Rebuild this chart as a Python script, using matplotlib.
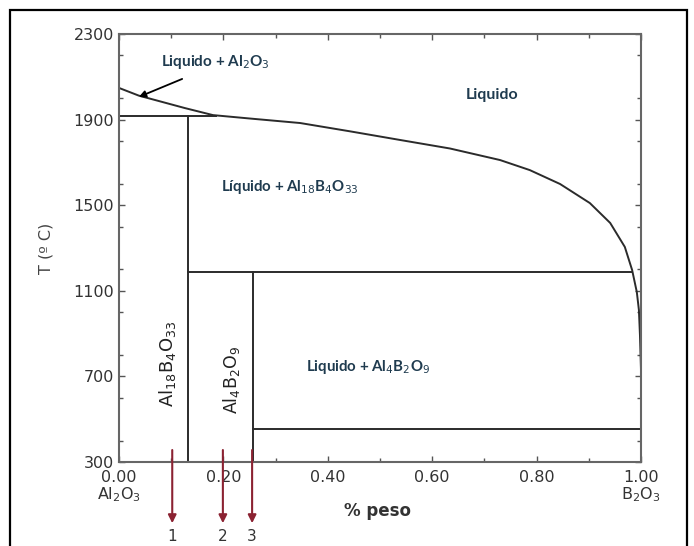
import numpy as np
import matplotlib
matplotlib.use("Agg")
from matplotlib import pyplot as plt
from matplotlib.patches import Rectangle
from matplotlib.ticker import MultipleLocator
import matplotlib.transforms as mtransforms

# liquidus curve (fraction B2O3, T in C)
liq_x = [0.0, 0.038, 0.079, 0.126, 0.18, 0.251, 0.347, 0.443, 0.538, 0.634,
         0.73, 0.787, 0.845, 0.902, 0.941, 0.969, 0.983, 0.992, 0.996, 0.998, 1.0]
liq_t = [2048, 2012, 1985, 1954, 1921, 1905, 1884, 1845, 1805, 1765,
         1711, 1664, 1599, 1510, 1417, 1305, 1197, 1094, 1010, 893, 730]

# invariant lines
eut_top_t = 1917
eut_top_x = [0.0, 0.185]
mid_t = 1188
mid_x = [0.132, 0.983]
low_t = 454
low_x = [0.257, 1.0]
comp_x = [0.132, 0.257]           # Al18B4O33, Al4B2O9
comp_top = [eut_top_t, mid_t]

arrow_x = [0.102, 0.199, 0.255]
arrow_lbl = ["1", "2", "3"]

xticks = [0.0, 0.2, 0.4, 0.6, 0.8, 1.0]
xtick_lbl = ["0.00\nAl$_2$O$_3$", "0.20", "0.40", "0.60", "0.80", "1.00\nB$_2$O$_3$"]
yticks = [300, 700, 1100, 1500, 1900, 2300]

line_c = "#2b2b2b"
txt_c = "#1f3b4f"
red_c = "#8b2232"

fig = plt.figure(figsize=(6.94, 5.46), dpi=100)
ax = fig.add_axes([119 / 694, 84 / 546, 522 / 694, 428 / 546])

ax.plot(liq_x, liq_t, color=line_c, lw=1.4)
ax.plot(eut_top_x, [eut_top_t] * 2, color=line_c, lw=1.4)
ax.plot(mid_x, [mid_t] * 2, color=line_c, lw=1.4)
ax.plot(low_x, [low_t] * 2, color=line_c, lw=1.4)
for cx, ct in zip(comp_x, comp_top):
    ax.plot([cx, cx], [300, ct], color=line_c, lw=1.4)

ax.set_xlim(0, 1)
ax.set_ylim(300, 2300)
ax.set_xticks(xticks)
ax.set_xticklabels(xtick_lbl)
ax.set_yticks(yticks)
ax.xaxis.set_minor_locator(MultipleLocator(0.1))
ax.yaxis.set_minor_locator(MultipleLocator(200))
ax.tick_params(which="both", direction="in", top=True, right=True,
               colors="#555555", labelcolor="#333333", labelsize=11.5)
ax.tick_params(which="major", length=4, width=1)
ax.tick_params(which="minor", length=3, width=1)
ax.tick_params(axis="x", pad=6)
for lbl in ax.get_xticklabels():
    lbl.set_linespacing(1.0)
for sp in ax.spines.values():
    sp.set_color("#666666")
    sp.set_linewidth(1.5)

ax.set_ylabel("T (º C)", fontsize=11.5, color="#444444", labelpad=14)
ax.set_xlabel("% peso", fontsize=12, color="#333333", fontweight="bold")
ax.xaxis.set_label_coords(0.496, -0.093)

# region labels
lbl_font = dict(family="Lato", fontweight="bold", color=txt_c)
ax.text(0.184, 2170, "Liquido + Al$_2$O$_3$", ha="center", va="center",
        fontsize=11, **lbl_font)
ax.text(0.715, 2015, "Liquido", ha="center", va="center", fontsize=11.5, **lbl_font)
ax.text(0.328, 1585, "Líquido + Al$_{18}$B$_4$O$_{33}$", ha="center", va="center",
        fontsize=10.8, **lbl_font)
ax.text(0.477, 744, "Liquido + Al$_4$B$_2$O$_9$", ha="center", va="center",
        fontsize=10.8, **lbl_font)
ax.annotate("", xy=(0.038, 2006), xytext=(0.121, 2090),
            arrowprops=dict(arrowstyle="-|>", color="black", lw=1.3,
                            mutation_scale=10, shrinkA=0, shrinkB=0))

# compound labels (vertical)
ax.text(0.092, 758, "Al$_{18}$B$_4$O$_{33}$", rotation=90, ha="center", va="center",
        fontsize=13, color="#222222")
ax.text(0.216, 683, "Al$_4$B$_2$O$_9$", rotation=90, ha="center", va="center",
        fontsize=12.5, color="#222222")

# red arrows under the axis
trans = mtransforms.blended_transform_factory(ax.transData, ax.transAxes)
for ax_x, lab in zip(arrow_x, arrow_lbl):
    ax.annotate("", xy=(ax_x, -0.143), xytext=(ax_x, 0.028),
                xycoords=trans, textcoords=trans,
                arrowprops=dict(arrowstyle="-|>", color=red_c, lw=1.5,
                                mutation_scale=12, shrinkA=0, shrinkB=0),
                annotation_clip=False)
    ax.text(ax_x, -0.175, lab, transform=trans, ha="center", va="center",
            fontsize=11, color="#333333")

# frame round the figure
fig.patches.append(Rectangle((10 / 694, -0.02), 677 / 694, 536 / 546 + 0.02,
                             transform=fig.transFigure, fill=False,
                             edgecolor="black", lw=1.6))

fig.savefig("out.png", dpi=100)
